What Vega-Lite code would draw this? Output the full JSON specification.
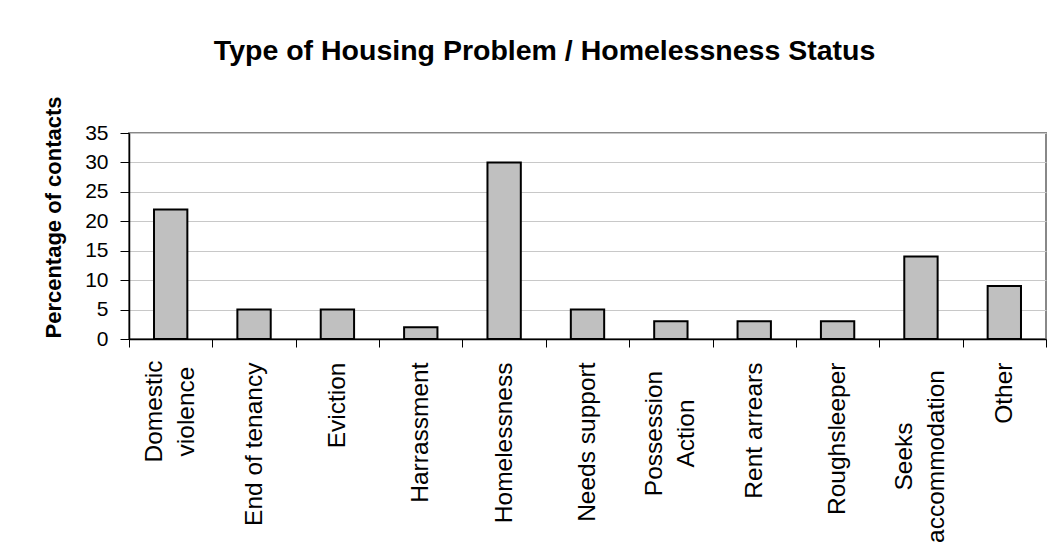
{
  "$schema": "https://vega.github.io/schema/vega-lite/v6.json",
  "width": 917,
  "height": 206,
  "autosize": "none",
  "padding": {"left": 129, "top": 133, "right": 6, "bottom": 215},
  "background": "white",
  "title": {
    "text": "Type of Housing Problem / Homelessness Status",
    "font": "Liberation Sans",
    "fontSize": 28.5,
    "fontWeight": "bold",
    "color": "black",
    "anchor": "middle",
    "frame": "bounds",
    "offset": 30
  },
  "data": {
    "values": [
      {"category": "Domestic violence", "percent": 22},
      {"category": "End of tenancy", "percent": 5},
      {"category": "Eviction", "percent": 5},
      {"category": "Harrassment", "percent": 2},
      {"category": "Homelessness", "percent": 30},
      {"category": "Needs support", "percent": 5},
      {"category": "Possession Action", "percent": 3},
      {"category": "Rent arrears", "percent": 3},
      {"category": "Roughsleeper", "percent": 3},
      {"category": "Seeks accommodation", "percent": 14},
      {"category": "Other", "percent": 9}
    ]
  },
  "mark": {
    "type": "bar",
    "fill": "#C0C0C0",
    "stroke": "black",
    "strokeWidth": 2,
    "width": {"band": 0.4}
  },
  "encoding": {
    "x": {
      "field": "category",
      "type": "nominal",
      "sort": null,
      "scale": {"paddingInner": 0, "paddingOuter": 0},
      "axis": {
        "title": null,
        "labelAngle": 270,
        "labelAlign": {
          "condition": {"test": "datum.value == 'Domestic violence' || datum.value == 'Possession Action' || datum.value == 'Seeks accommodation'", "value": "center"},
          "value": "right"
        },
        "labelBaseline": "middle",
        "labelFont": "Liberation Sans",
        "labelFontSize": 24.5,
        "labelColor": "black",
        "labelPadding": {
          "condition": [
            {"test": "datum.value == 'Domestic violence'", "value": 64},
            {"test": "datum.value == 'Possession Action'", "value": 86},
            {"test": "datum.value == 'Seeks accommodation'", "value": 109}
          ],
          "value": 15
        },
        "labelLineHeight": 32,
        "labelLimit": 400,
        "labelOffset": {
          "condition": {"test": "datum.value == 'Domestic violence' || datum.value == 'Possession Action' || datum.value == 'Seeks accommodation'", "value": -16},
          "value": 0
        },
        "labelExpr": "datum.value == 'Domestic violence' ? ['Domestic', 'violence'] : datum.value == 'Possession Action' ? ['Possession', 'Action'] : datum.value == 'Seeks accommodation' ? ['Seeks', 'accommodation'] : datum.value",
        "tickBand": "extent",
        "tickSize": 8,
        "tickColor": "black",
        "domainColor": "black",
        "domainWidth": 1.5,
        "grid": false
      }
    },
    "y": {
      "field": "percent",
      "type": "quantitative",
      "scale": {"domain": [0, 35], "nice": false},
      "axis": {
        "title": "Percentage of contacts",
        "titleFont": "Liberation Sans",
        "titleFontSize": 22,
        "titleFontWeight": "bold",
        "titleColor": "black",
        "titlePadding": 19,
        "titleY": 84,
        "values": [0, 5, 10, 15, 20, 25, 30, 35],
        "labelFont": "Liberation Sans",
        "labelFontSize": 21,
        "labelColor": "black",
        "labelPadding": 12,
        "tickSize": 9,
        "tickColor": "black",
        "domainColor": "black",
        "domainWidth": 1.5,
        "grid": true,
        "gridColor": "#c8c8c8",
        "gridWidth": 1
      }
    }
  },
  "config": {
    "view": {"stroke": "#888888", "strokeWidth": 2},
    "font": "Liberation Sans"
  }
}
